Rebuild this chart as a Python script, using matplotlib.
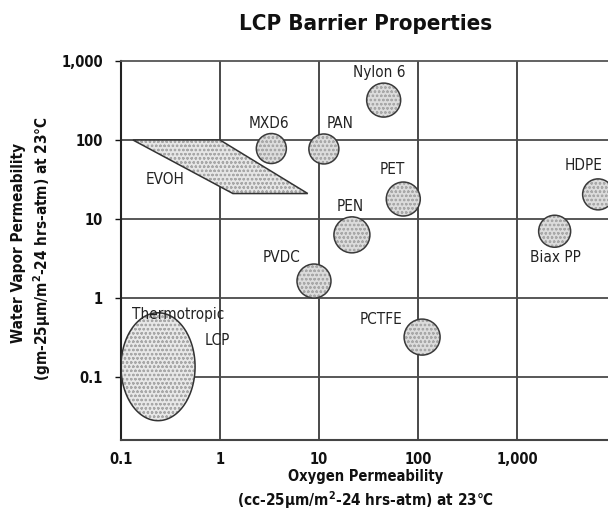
import numpy as np
import matplotlib
matplotlib.use('Agg')
import matplotlib.pyplot as plt
from matplotlib.patches import Polygon
from matplotlib.ticker import FixedLocator, FixedFormatter, NullLocator

plt.rcParams['font.family'] = ['DejaVu Sans']
plt.rcParams['font.stretch'] = 'condensed'
plt.rcParams['hatch.color'] = '#a8a8a8'
plt.rcParams['hatch.linewidth'] = 0.6

# Polymers shown as bubbles: oxygen permeability (x) and water vapor permeability (y)
polymers = ['Nylon 6', 'MXD6', 'PAN', 'PET', 'PEN', 'PVDC', 'HDPE', 'Biax PP', 'PCTFE']
oxygen = [45, 3.3, 11.2, 71, 21.5, 8.9, 6600, 2400, 110]
water = [320, 78, 77, 17.9, 6.3, 1.64, 20.5, 7.0, 0.32]
bubble_px = [34, 30, 30, 34, 36, 34, 31, 32, 36]

# Label positions for each polymer
label_x = [41, 3.1, 16.3, 55, 20.5, 4.2, 4650, 2420, 42]
label_y = [705, 164, 164, 42, 14.2, 3.3, 48, 3.3, 0.53]

# EVOH region (parallelogram corners)
evoh_oxygen = [0.132, 1.0, 7.7, 1.35]
evoh_water = [100, 100, 21, 21]

# Thermotropic LCP region (range of the ellipse)
lcp_oxygen = [0.1, 0.56]
lcp_water = [0.028, 0.65]

xticks = [0.1, 1, 10, 100, 1000]
xtick_labels = ['0.1', '1', '10', '100', '1,000']
yticks = [0.1, 1, 10, 100, 1000]
ytick_labels = ['0.1', '1', '10', '100', '1,000']

fig = plt.figure(figsize=(6.08, 5.17), dpi=100)
ax = fig.add_axes([121/608, 1-440/517, 487/608, 379/517])
ax.set_xscale('log')
ax.set_yscale('log')
ax.set_xlim(0.1, 10**(-1 + 487/99))
ax.set_ylim(10**(3 - 379/79), 1000)

# grid lines
for x in xticks[1:]:
    ax.axvline(x, color='#3a3a3a', lw=1.3, zorder=1)
for y in yticks[:-1]:
    ax.axhline(y, color='#4a4a4a', lw=1.3, zorder=1)

ax.spines['right'].set_visible(False)
ax.spines['top'].set_color('#555555')
ax.spines['top'].set_linewidth(1.3)
ax.spines['left'].set_color('#222222')
ax.spines['left'].set_linewidth(1.5)
ax.spines['bottom'].set_color('#444444')
ax.spines['bottom'].set_linewidth(1.5)

ax.xaxis.set_major_locator(FixedLocator(xticks))
ax.xaxis.set_major_formatter(FixedFormatter(xtick_labels))
ax.yaxis.set_major_locator(FixedLocator(yticks))
ax.yaxis.set_major_formatter(FixedFormatter(ytick_labels))
ax.xaxis.set_minor_locator(NullLocator())
ax.yaxis.set_minor_locator(NullLocator())
ax.tick_params(axis='x', length=0, pad=9, labelsize=10.5, colors='#111111')
ax.tick_params(axis='y', length=4, width=1, pad=9, labelsize=10.5, colors='#111111')
for lab in ax.get_xticklabels() + ax.get_yticklabels():
    lab.set_fontweight('bold')

# EVOH region
evoh = Polygon(list(zip(evoh_oxygen, evoh_water)), closed=True, facecolor='#e6e6e6',
               hatch='oooo', lw=0, zorder=2)
ax.add_patch(evoh)
ax.add_patch(Polygon(list(zip(evoh_oxygen, evoh_water)), closed=True, fill=False,
                     edgecolor='#333333', lw=1.1, zorder=3))

# Thermotropic LCP ellipse, built in log space
t = np.linspace(0, 2*np.pi, 200)
lx = np.log10(lcp_oxygen)
ly = np.log10(lcp_water)
ex = 10**((lx[0] + lx[1])/2 + (lx[1] - lx[0])/2*np.cos(t))
ey = 10**((ly[0] + ly[1])/2 + (ly[1] - ly[0])/2*np.sin(t))
ax.add_patch(Polygon(np.column_stack([ex, ey]), closed=True, facecolor='#e8e8e8',
                     hatch='oooo', lw=0, zorder=2))
ax.add_patch(Polygon(np.column_stack([ex, ey]), closed=True, fill=False,
                     edgecolor='#333333', lw=1.1, zorder=3))

# bubbles
sizes = [(d*0.72)**2 for d in bubble_px]
ax.scatter(oxygen, water, s=sizes, facecolor='#dcdcdc', edgecolor='#a8a8a8',
           hatch='oooo', linewidths=0, zorder=4, clip_on=False)
ax.scatter(oxygen, water, s=sizes, facecolor='none', edgecolor='#3a3a3a',
           linewidths=1.1, zorder=5, clip_on=False)

for name, x, y in zip(polymers, label_x, label_y):
    ax.text(x, y, name, ha='center', va='center', fontsize=11, color='#222222', zorder=6)

ax.text(0.28, 32, 'EVOH', ha='center', va='center', fontsize=11, color='#222222', zorder=6)
ax.text(0.38, 0.61, 'Thermotropic', ha='center', va='center', fontsize=11, color='#222222', zorder=6)
ax.text(0.95, 0.29, 'LCP', ha='center', va='center', fontsize=11, color='#222222', zorder=6)

# titles and axis labels
fig.text(366/608, 1-24/517, 'LCP Barrier Properties', ha='center', va='center',
         fontsize=16, fontweight='bold', color='#111111')
fig.text(366/608, 1-477/517, 'Oxygen Permeability', ha='center', va='center',
         fontsize=10.5, fontweight='bold', color='#111111')
fig.text(366/608, 1-500/517, '(cc-25\u03bcm/m$^{\\mathbf{2}}$-24 hrs-atm) at 23\u00b0C', ha='center', va='center',
         fontsize=11, fontweight='bold', color='#111111')
fig.text(19/608, 1-243/517, 'Water Vapor Permeability', ha='center', va='center',
         rotation=90, fontsize=11, fontweight='bold', color='#111111')
fig.text(42/608, 1-249/517, '(gm-25\u03bcm/m$^{\\mathbf{2}}$-24 hrs-atm) at 23\u00b0C', ha='center', va='center',
         rotation=90, fontsize=11, fontweight='bold', color='#111111')

plt.savefig('out.png', dpi=100)
